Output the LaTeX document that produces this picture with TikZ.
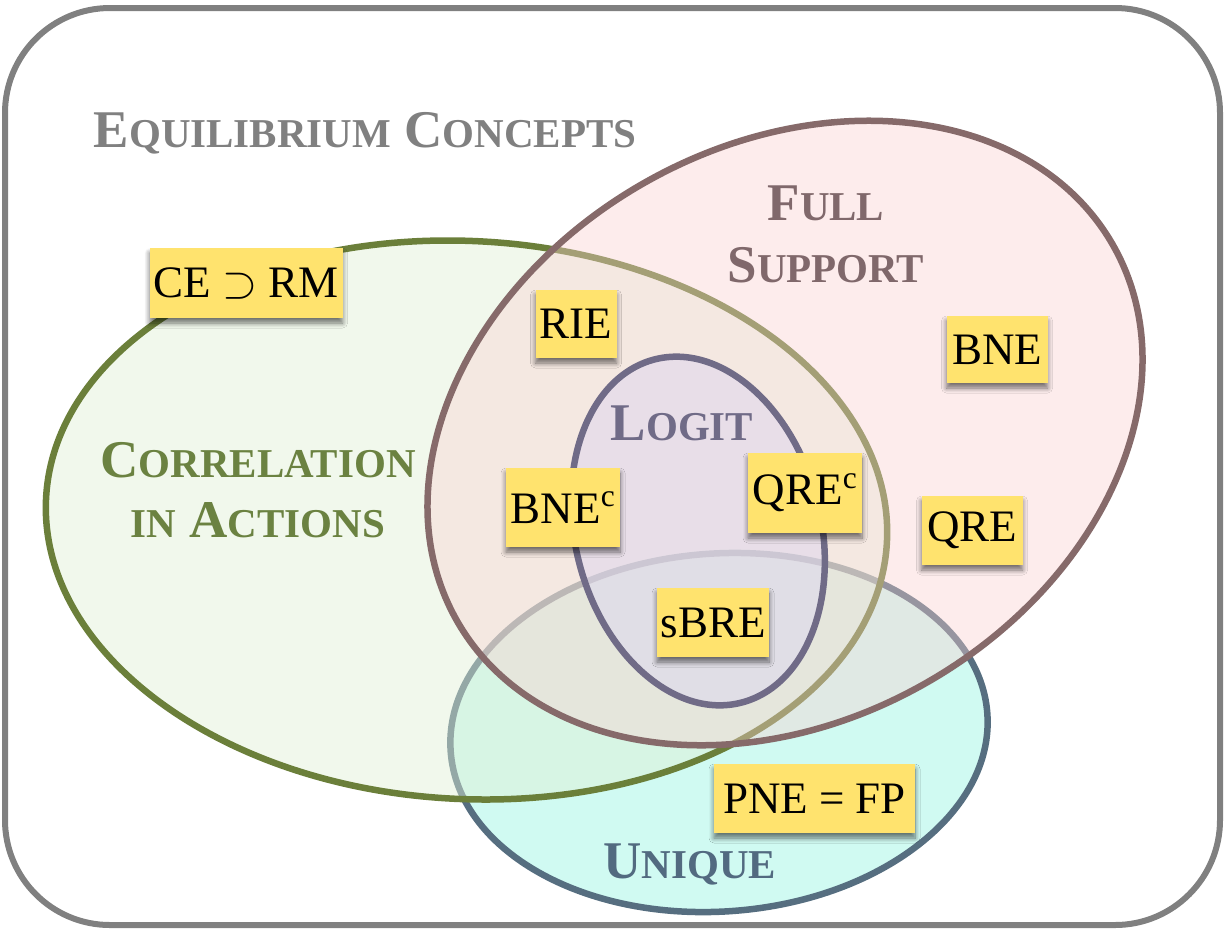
\RequirePackage{fix-cm}
\documentclass[tikz,border=0pt]{standalone}
\usepackage{fontspec}
\setmainfont{Liberation Serif}
\IfFileExists{tikzlibraryshadows.blur.code.tex}{%
  \usetikzlibrary{shadows.blur}%
  \tikzset{noteshadow/.style={blur shadow={shadow xshift=0pt, shadow yshift=-5pt,
      shadow blur radius=5pt, shadow blur steps=8, shadow opacity=55}}}%
}{%
  \usetikzlibrary{shadows}%
  \tikzset{noteshadow/.style={drop shadow={shadow xshift=0pt, shadow yshift=-4pt,
      opacity=0.35, fill=black}}}%
}

% palette
\definecolor{framegray}{RGB}{128,128,128}
\definecolor{noteyellow}{RGB}{255,227,110}
\definecolor{corrstroke}{RGB}{107,127,58}
\definecolor{corrfill}{RGB}{224,240,213}
\definecolor{corrtext}{RGB}{107,130,65}
\definecolor{fullstroke}{RGB}{134,106,106}
\definecolor{fullfill}{RGB}{250,208,208}
\definecolor{fulltext}{RGB}{128,104,107}
\definecolor{logitstroke}{RGB}{112,107,135}
\definecolor{logitfill}{RGB}{221,215,240}
\definecolor{logittext}{RGB}{112,107,135}
\definecolor{uniqstroke}{RGB}{86,110,128}
\definecolor{uniqfill}{RGB}{208,250,242}
\definecolor{uniqtext}{RGB}{82,106,128}

\newcommand\notefont{\fontsize{45}{50}\selectfont}
\newcommand\setlabelfont{\fontsize{53}{60}\selectfont\bfseries}
% small-capital letters of the set names
\newcommand\scl[1]{{\fontsize{41}{48}\selectfont #1}}

\begin{document}
\begin{tikzpicture}[x=1pt,y=-1pt,
  note/.style={fill=noteyellow, inner sep=0pt, minimum height=68, font=\notefont, noteshadow},
  setlabel/.style={font=\setlabelfont, anchor=base},
  setline/.style={line width=6.5}]

\useasboundingbox (0,0) rectangle (1225,930);

% outer frame
\draw[framegray, line width=6, rounded corners=105] (5,8) rectangle (1220,925);

% unique
\path[setline, draw=uniqstroke, fill=uniqfill, rotate around={4:(719,732.5)}]
  (719,732.5) ellipse [x radius=269, y radius=179];

% correlation in actions
\path[setline, draw=corrstroke, fill=corrfill, fill opacity=0.45, rotate around={-3:(466.5,520)}]
  (466.5,520) ellipse [x radius=421, y radius=279];

% full support
\path[setline, draw=fullstroke, fill=fullfill, fill opacity=0.4, rotate around={30:(785,433)}]
  (785,433) ellipse [x radius=378, y radius=287];

% logit
\path[setline, draw=logitstroke, fill=logitfill, fill opacity=0.5, rotate around={14:(698,531)}]
  (698,531) ellipse [x radius=123, y radius=177];

% set names
\node[setlabel, text=framegray] (title) at (365,147) {E\scl{QUILIBRIUM} C\scl{ONCEPTS}};
\node[setlabel, text=fulltext] (full1) at (826,220) {F\scl{ULL}};
\node[setlabel, text=fulltext] (full2) at (826,282) {S\scl{UPPORT}};
\node[setlabel, text=logittext] (logit) at (682,440) {L\scl{OGIT}};
\node[setlabel, text=corrtext] (corr1) at (258,477) {C\scl{ORRELATION}};
\node[setlabel, text=corrtext] (corr2) at (258,537) {\scl{IN} A\scl{CTIONS}};
\node[setlabel, text=uniqtext] (uniq) at (690,878) {U\scl{NIQUE}};

% concept notes
\node[note, minimum width=193, minimum height=70] (cerm) at (246,283) {CE $\supset$ RM};
\node[note, minimum width=81] (rie) at (576,324) {RIE};
\node[note, minimum width=101, minimum height=67] (bne) at (997,349.5) {BNE};
\node[note, minimum width=114, minimum height=79] (bnec) at (563,507.5) {BNE\textsuperscript{c}};
\node[note, minimum width=114, minimum height=80] (qrec) at (805,493) {QRE\textsuperscript{c}};
\node[note, minimum width=101, minimum height=69] (qre) at (972,530.5) {QRE};
\node[note, minimum width=112, minimum height=69] (sbre) at (713,622.5) {sBRE};
\node[note, minimum width=201, minimum height=69] (pnefp) at (814.5,798.5) {PNE = FP};

\end{tikzpicture}
\end{document}
